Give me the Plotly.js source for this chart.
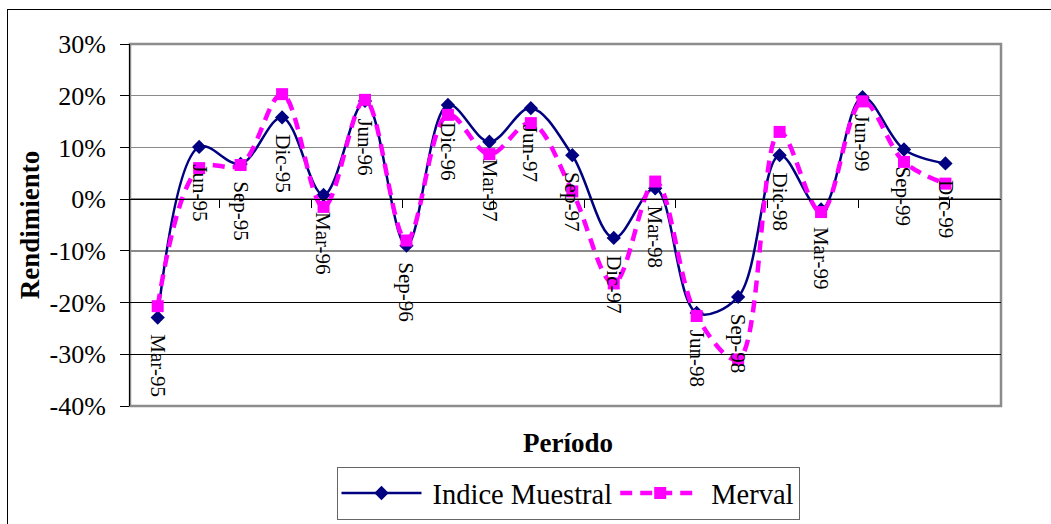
<!DOCTYPE html>
<html>
<head>
<meta charset="utf-8">
<script src="https://cdn.plot.ly/plotly-3.0.1.min.js"></script>
<style>
  html, body { margin: 0; padding: 0; background: #fff; overflow: hidden; }
  #frame { position: absolute; left: 7px; top: 9px; width: 1100px; height: 600px;
           border: 1.5px solid #000; box-sizing: border-box; }
  #chart { position: absolute; left: 0; top: 0; width: 1051px; height: 524px; }
</style>
</head>
<body>
<div id="frame"></div>
<div id="chart"></div>
<script>
// Quarterly periods
const periods = ['Mar-95', 'Jun-95', 'Sep-95', 'Dic-95', 'Mar-96', 'Jun-96', 'Sep-96', 'Dic-96',
                 'Mar-97', 'Jun-97', 'Sep-97', 'Dic-97', 'Mar-98', 'Jun-98', 'Sep-98', 'Dic-98',
                 'Mar-99', 'Jun-99', 'Sep-99', 'Dic-99'];

// Quarterly returns (fraction)
const indiceMuestral = [-0.229, 0.101, 0.068, 0.158, 0.008, 0.190, -0.090, 0.182,
                        0.111, 0.176, 0.085, -0.075, 0.021, -0.220, -0.189, 0.085,
                        -0.020, 0.197, 0.096, 0.069];
const merval = [-0.207, 0.060, 0.066, 0.203, -0.015, 0.192, -0.080, 0.163,
                0.087, 0.147, 0.015, -0.163, 0.034, -0.226, -0.310, 0.130,
                -0.025, 0.189, 0.072, 0.030];

// Value axis ticks
const yTickVals = [-0.4, -0.3, -0.2, -0.1, 0, 0.1, 0.2, 0.3];
const yTickText = yTickVals.map(v => Math.round(v * 100) + '%');
const yRange = [-0.4, 0.3];

const xIdx = periods.map((_, i) => i);
const serif = "Liberation Serif, Times New Roman, serif";

const traces = [
  {
    name: 'Indice Muestral',
    x: xIdx, y: indiceMuestral,
    type: 'scatter', mode: 'lines+markers',
    line: { color: '#000080', width: 2.5, shape: 'spline', smoothing: 1 },
    marker: { symbol: 'diamond', size: 11, color: '#000080' }
  },
  {
    name: 'Merval',
    x: xIdx, y: merval,
    type: 'scatter', mode: 'lines+markers',
    line: { color: '#FF00FF', width: 4.5, dash: '12px,8px', shape: 'spline', smoothing: 1 },
    marker: { symbol: 'square', size: 12, color: '#FF00FF' }
  }
];

// Period names written beside each point of the index series
const periodLabels = periods.map((p, i) => ({
  x: xIdx[i], y: indiceMuestral[i], xref: 'x', yref: 'y',
  text: p, textangle: 90, showarrow: false,
  xanchor: 'center', yanchor: 'top', yshift: -15,
  font: { family: serif, size: 21, color: '#000' }
}));

const layout = {
  width: 1051, height: 524,
  margin: { l: 130, r: 50, t: 44, b: 118, pad: 0, autoexpand: false },
  paper_bgcolor: 'rgba(0,0,0,0)',
  plot_bgcolor: '#fff',
  font: { family: serif, color: '#000' },
  showlegend: true,
  xaxis: {
    type: 'linear', range: [-0.668, 20.34],
    anchor: 'free', position: (0 - yRange[0]) / (yRange[1] - yRange[0]),
    showline: true, linecolor: '#000', linewidth: 1,
    ticks: 'outside', ticklen: 8, tickwidth: 1, tickcolor: '#000',
    tickmode: 'linear', tick0: 1.5, dtick: 2.2,
    showticklabels: false, showgrid: false, zeroline: false,
    automargin: false, fixedrange: true
  },
  yaxis: {
    range: yRange, tickvals: yTickVals, ticktext: yTickText,
    ticks: 'outside', ticklen: 9, tickwidth: 1, tickcolor: '#000',
    showline: true, linecolor: '#000', linewidth: 1,
    showgrid: true, gridcolor: '#8a8a8a', gridwidth: 1.5,
    zeroline: false,
    tickfont: { family: serif, size: 26, color: '#000' },
    ticklabelstandoff: 9,
    title: { text: 'Rendimiento', font: { family: serif, size: 27, weight: 'bold', color: '#000' }, standoff: 2 },
    automargin: false, fixedrange: true
  },
  yaxis2: {
    overlaying: 'y', range: yRange, tickvals: [-0.3, -0.2],
    showticklabels: false, ticks: '', showline: false,
    showgrid: true, gridcolor: '#000', gridwidth: 1, zeroline: false,
    automargin: false, fixedrange: true
  },
  legend: {
    orientation: 'h', x: 0.504, xanchor: 'center', y: -0.1685, yanchor: 'top',
    bordercolor: '#666', borderwidth: 1, bgcolor: '#fff',
    font: { family: serif, size: 28.5, color: '#000' },
    itemwidth: 84
  },
  shapes: [
    { type: 'rect', xref: 'paper', yref: 'paper', x0: 0, x1: 1, y0: 0, y1: 1,
      line: { color: '#8c8c8c', width: 2.5 }, layer: 'below' }
  ],
  annotations: periodLabels.concat([
    { xref: 'paper', yref: 'paper', x: 0.503, y: -0.102, xanchor: 'center', yanchor: 'middle',
      text: 'Período', showarrow: false,
      font: { family: serif, size: 27, weight: 'bold', color: '#000' } }
  ])
};

// Invisible trace that carries the second grid layer
traces.push({ x: [0], y: [0], yaxis: 'y2', type: 'scatter', mode: 'markers',
              marker: { opacity: 0 }, showlegend: false, hoverinfo: 'skip' });

Plotly.newPlot('chart', traces, layout, { staticPlot: true }).then(gd => {
  // Stretch the legend sample lines across the symbol area
  gd.querySelectorAll('.legend .legendlines path').forEach(p => p.setAttribute('d', 'M3,0h80'));
  gd.querySelectorAll('.legend .legendpoints path').forEach(p => {
    p.setAttribute('transform', 'translate(43,0)');
  });
});
</script>
</body>
</html>
